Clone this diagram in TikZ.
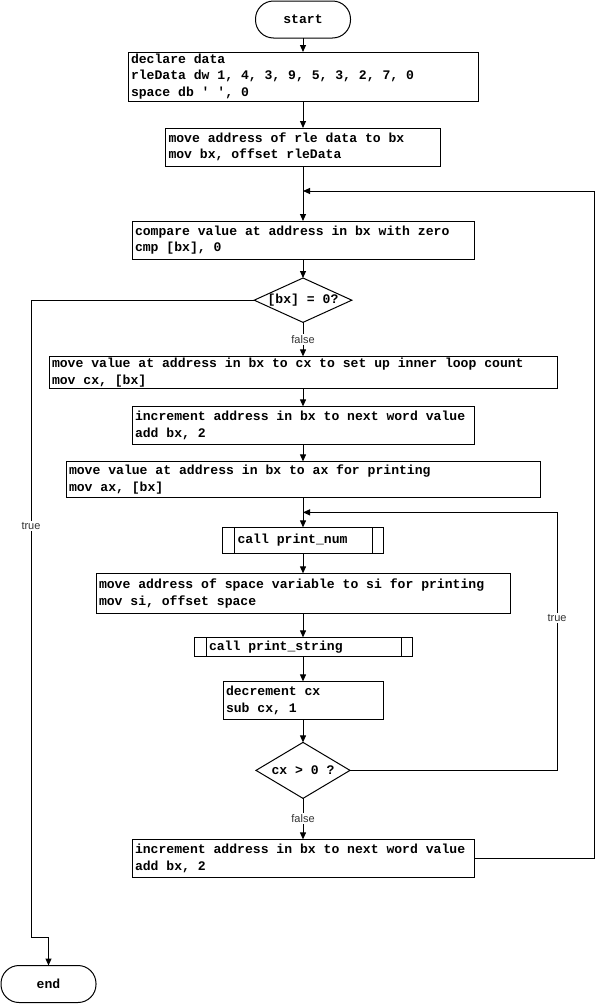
\documentclass[tikz,border=0pt]{standalone}
\usepackage{fontspec}
\newfontfamily\codefont{Liberation Mono}
\newfontfamily\labelfont{Liberation Sans}
\usetikzlibrary{shapes.geometric, arrows.meta, positioning, calc}

\begin{document}
\begin{tikzpicture}[
        x=1pt, y=-1pt,
        node distance=20pt,
        box/.style={rectangle, draw, line width=1pt, outer sep=0pt, inner xsep=3pt, inner ysep=1pt, align=left,
            font=\codefont\bfseries\fontsize{13.1}{16.5}\selectfont,
            execute at begin node={\spaceskip=0.6em\relax}},
        term/.style={box, rounded corners=18pt, align=center, minimum width=95pt, minimum height=37pt},
        decision/.style={diamond, draw, line width=1pt, outer sep=0pt, inner sep=0pt, aspect=2.2,
            font=\codefont\bfseries\fontsize{13.1}{16.5}\selectfont},
        lbl/.style={fill=white, inner sep=1.5pt, text=black!80, font=\labelfont\fontsize{11}{13}\selectfont},
        arrow/.style={-{Triangle[length=7pt,width=6pt]}, line width=1pt},
        line/.style={line width=1pt}
    ]
    \useasboundingbox (0,0) rectangle (595,1004);

    \node (start) [term] at (303,19.5) {start};
    \node (declare) [box, below=14pt of start, text width=344pt, minimum height=49pt] {declare data\\rleData dw 1, 4, 3, 9, 5, 3, 2, 7, 0\\space db \textquotesingle\ \textquotesingle, 0};
    \node (moveaddr) [box, below=27pt of declare, text width=269pt, minimum height=38pt] {move address of rle data to bx\\mov bx, offset rleData};
    \node (compare) [box, below=55pt of moveaddr, text width=336pt, minimum height=38pt] {compare value at address in bx with zero\\cmp [bx], 0};
    \node (testzero) [decision, below=19pt of compare, minimum width=95pt, minimum height=44pt] {[bx] = 0?};
    \node (movecx) [box, below=34pt of testzero, text width=502pt, minimum height=32pt] {move value at address in bx to cx to set up inner loop count\\mov cx, [bx]};
    \node (incbx) [box, below=18pt of movecx, text width=336pt, minimum height=38pt] {increment address in bx to next word value\\add bx, 2};
    \node (moveax) [box, below=17pt of incbx, text width=468pt, minimum height=36pt] {move value at address in bx to ax for printing\\mov ax, [bx]};
    \node (printnum) [box, below=30pt of moveax, text width=155pt, minimum height=26pt] {\hspace*{12pt}call print\_num};
    \node (movesi) [box, below=20pt of printnum, text width=408pt, minimum height=40pt] {move address of space variable to si for printing\\mov si, offset space};
    \node (printstr) [box, below=24pt of movesi, text width=212pt, minimum height=19pt] {\hspace*{12pt}call print\_string};
    \node (deccx) [box, below=25pt of printstr, text width=154pt, minimum height=38pt] {decrement cx\\sub cx, 1};
    \node (testcx) [decision, below=23pt of deccx, minimum width=94pt, minimum height=56pt] {cx > 0 ?};
    \node (incbx2) [box, below=41pt of testcx, text width=336pt, minimum height=38pt] {increment address in bx to next word value\\add bx, 2};
    \node (stop) [term] at (48.5,984) {end};

    % side bars of the subroutine boxes
    \draw[line] ([xshift=12pt]printnum.north west) -- ([xshift=12pt]printnum.south west);
    \draw[line] ([xshift=-11pt]printnum.north east) -- ([xshift=-11pt]printnum.south east);
    \draw[line] ([xshift=12pt]printstr.north west) -- ([xshift=12pt]printstr.south west);
    \draw[line] ([xshift=-11pt]printstr.north east) -- ([xshift=-11pt]printstr.south east);

    \coordinate (outerjoin) at ([yshift=-25pt]moveaddr.south);
    \coordinate (innerjoin) at ([yshift=-15pt]moveax.south);
    \coordinate (leftbend) at (31,937);

    \draw[arrow] (start) -- (declare);
    \draw[arrow] (declare) -- (moveaddr);
    \draw[arrow] (moveaddr) -- (compare);
    \draw[arrow] (compare) -- (testzero);
    \draw[arrow] (testzero) -- node[lbl] {false} (movecx);
    \draw[arrow] (movecx) -- (incbx);
    \draw[arrow] (incbx) -- (moveax);
    \draw[arrow] (moveax) -- (printnum);
    \draw[arrow] (printnum) -- (movesi);
    \draw[arrow] (movesi) -- (printstr);
    \draw[arrow] (printstr) -- (deccx);
    \draw[arrow] (deccx) -- (testcx);
    \draw[arrow] (testcx) -- node[lbl] {false} (incbx2);

    % loops
    \draw[arrow] (testcx.east) -| node[lbl, pos=0.796] {true} ([xshift=254pt]innerjoin) -- (innerjoin);
    \draw[arrow] (incbx2.east) -| ([xshift=291pt]outerjoin) -- (outerjoin);
    \draw[arrow] (testzero.west) -| node[lbl, pos=0.677] {true} (leftbend) -| (stop.north);

\end{tikzpicture}
\end{document}
